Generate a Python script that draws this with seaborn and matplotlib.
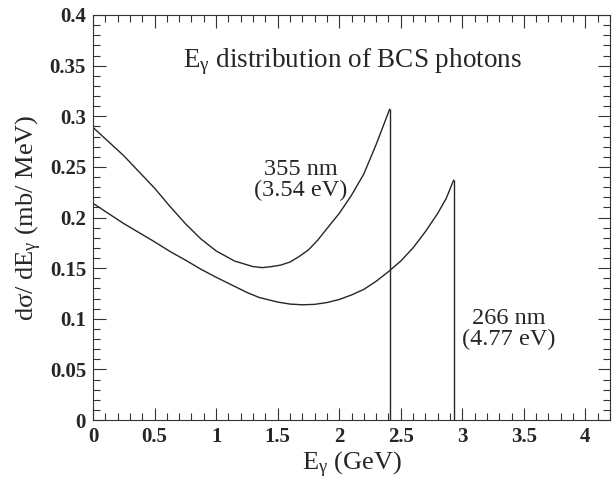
import matplotlib
matplotlib.use("Agg")
import matplotlib.pyplot as plt
import seaborn as sns
import pandas as pd
from matplotlib.ticker import MultipleLocator

# 355 nm (3.54 eV) curve
e355 = [0.0, 0.125, 0.25, 0.375, 0.5, 0.625, 0.75, 0.875, 1.0, 1.15, 1.3, 1.375, 1.45,
        1.525, 1.6, 1.675, 1.75, 1.825, 1.9, 2.0, 2.1, 2.2, 2.3, 2.41]
s355 = [0.289, 0.275, 0.261, 0.245, 0.229, 0.211, 0.194, 0.179, 0.167, 0.157, 0.1515,
        0.1505, 0.1515, 0.153, 0.156, 0.1615, 0.168, 0.1775, 0.189, 0.204, 0.222, 0.243,
        0.272, 0.307]
# 266 nm (4.77 eV) curve
e266 = [0.0, 0.125, 0.25, 0.375, 0.5, 0.625, 0.75, 0.875, 1.0, 1.125, 1.25, 1.35, 1.5,
        1.6, 1.7, 1.8, 1.9, 2.0, 2.1, 2.2, 2.3, 2.4, 2.5, 2.6, 2.7, 2.8, 2.87, 2.93]
s266 = [0.214, 0.204, 0.194, 0.185, 0.176, 0.1665, 0.158, 0.149, 0.141, 0.1335, 0.126,
        0.121, 0.1165, 0.1145, 0.1138, 0.1142, 0.116, 0.119, 0.1235, 0.129, 0.137,
        0.1465, 0.157, 0.170, 0.186, 0.204, 0.219, 0.237]

labels = ["355 nm\n(3.54 eV)", "266 nm\n(4.77 eV)"]
title = r"E$_{\mathrm{γ}}$ distribution of BCS photons"
xlabel = r"E$_{\mathrm{γ}}$ (GeV)"
ylabel = r"d$\mathrm{σ}$/ dE$_{\mathrm{γ}}$ (mb/ MeV)"
xticks = [0, 0.5, 1, 1.5, 2, 2.5, 3, 3.5, 4]
xticklabels = ["0", "0.5", "1", "1.5", "2", "2.5", "3", "3.5", "4"]
yticks = [0, 0.05, 0.1, 0.15, 0.2, 0.25, 0.3, 0.35, 0.4]
yticklabels = ["0", "0.05", "0.1", "0.15", "0.2", "0.25", "0.3", "0.35", "0.4"]

sns.set_style("ticks")
plt.rcParams["font.family"] = ["Liberation Serif", "DejaVu Serif"]
plt.rcParams["mathtext.fontset"] = "custom"
plt.rcParams["mathtext.rm"] = "Liberation Serif"
plt.rcParams["mathtext.it"] = "Liberation Serif:italic"
plt.rcParams["mathtext.bf"] = "Liberation Serif:bold"

fig = plt.figure(figsize=(6.16, 4.84), dpi=100)
ax = fig.add_axes([93 / 616, 64 / 484, (610 - 93) / 616, (420 - 15) / 484])

line_color = "#262626"
d1 = pd.DataFrame({"E": e355, "s": s355})
d2 = pd.DataFrame({"E": e266, "s": s266})
for d in (d1, d2):
    sns.lineplot(data=d, x="E", y="s", ax=ax, color=line_color, lw=1.0,
                 estimator=None, sort=False)
ax.vlines([e355[-1], e266[-1]], 0, [s355[-1], s266[-1]], color=line_color, lw=1.0)

ax.set_xlim(0, 4.2)
ax.set_ylim(0, 0.4)
ax.xaxis.set_minor_locator(MultipleLocator(0.1))
ax.yaxis.set_minor_locator(MultipleLocator(0.01))
ax.set_xticks(xticks)
ax.set_xticklabels(xticklabels)
ax.set_yticks(yticks)
ax.set_yticklabels(yticklabels)
ax.tick_params(which="both", direction="in", top=True, right=True, color="#333333", width=0.8)
ax.tick_params(which="major", length=9, labelsize=15, pad=5)
ax.tick_params(which="minor", length=5)
for t in ax.get_xticklabels() + ax.get_yticklabels():
    t.set_fontweight("bold")
for s in ax.spines.values():
    s.set_linewidth(0.8)
    s.set_color("#333333")

ax.set_xlabel(xlabel, fontsize=19, labelpad=2)
ax.set_ylabel(ylabel, fontsize=19, labelpad=4)

ax.text(2.11, 0.354, title, fontsize=19.5, ha="center", va="center")
ax.text(1.69, 0.237, labels[0], fontsize=17.5, ha="center", va="center", linespacing=1.0)
ax.text(3.38, 0.090, labels[1], fontsize=17.5, ha="center", va="center", linespacing=1.0)

fig.savefig("out.png", dpi=100)
